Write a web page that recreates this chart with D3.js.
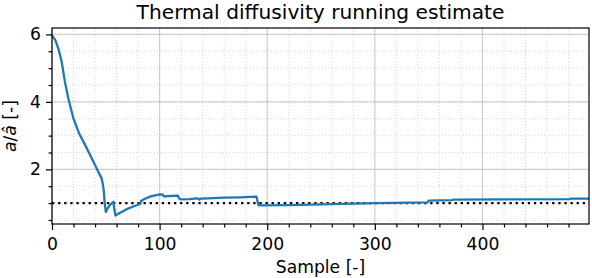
<!DOCTYPE html>
<meta charset="utf-8">
<title>Thermal diffusivity running estimate</title>
<style>

    body {
        margin: 0;
        background: #fff;
    }

    text {
        font-family: "DejaVu Sans", sans-serif;
        fill: #000;
    }

    .grid-major line {
        stroke: #b0b0b0;
        stroke-opacity: .55;
        stroke-width: 1.2px;
    }

    .grid-minor line {
        stroke: #b0b0b0;
        stroke-opacity: .6;
        stroke-width: .8px;
        stroke-dasharray: 1,2;
    }

</style>
<body>
<script src="https://d3js.org/d3.v7.min.js"></script>
<script>

    // running estimate a / a_hat
    var samples = [0, 3, 6, 9, 12, 15, 20, 25, 31, 37, 43, 46, 47, 48, 49, 50,
                   52, 54, 56, 57, 58, 59, 62, 66, 70, 75, 80, 82, 83, 86, 91, 96, 100,
                   103, 104, 110, 117, 118, 119, 128, 134, 136, 137, 138, 145, 160, 175,
                   190, 191, 192, 220, 260, 300, 349, 350, 372, 373, 420, 481, 482, 499];
    var ratio   = [5.97, 5.84, 5.57, 5.19, 4.6, 4.12, 3.5, 3.08, 2.71, 2.32, 1.93, 1.74, 1.6, 1.4, 1.0, 0.74,
                   0.86, 0.95, 1.01, 1.04, 0.8, 0.63, 0.69, 0.76, 0.83, 0.89, 0.95, 0.98, 1.07, 1.12, 1.19, 1.23, 1.26,
                   1.25, 1.2, 1.21, 1.22, 1.15, 1.11, 1.12, 1.14, 1.13, 1.1, 1.13, 1.14, 1.16, 1.17,
                   1.19, 1.05, 0.93, 0.94, 0.97, 1.0, 1.02, 1.07, 1.09, 1.1, 1.11, 1.12, 1.13, 1.13];

    var xTicks = [0, 100, 200, 300, 400],
        yTicks = [2, 4, 6];

    var w = 592,
        h = 278,
        m = {top: 28, right: 3, bottom: 54, left: 52};

    var svg = d3.select("body").append("svg")
        .attr("width", w)
        .attr("height", h);

    var x = d3.scaleLinear().domain([0, 499]).range([m.left, w - m.right]),
        y = d3.scaleLinear().domain([0.38, 6.19]).range([h - m.bottom, m.top]);

    var xMinor = d3.range(0, 500, 20),
        yMinor = d3.range(0.5, 6.01, 0.5);

    // grid
    svg.append("g").attr("class", "grid-minor")
        .selectAll("line.v").data(xMinor).enter().append("line")
        .attr("x1", x).attr("x2", x).attr("y1", m.top).attr("y2", h - m.bottom);
    svg.select(".grid-minor")
        .selectAll("line.h").data(yMinor).enter().append("line")
        .attr("y1", y).attr("y2", y).attr("x1", m.left).attr("x2", w - m.right);

    svg.append("g").attr("class", "grid-major")
        .selectAll("line.v").data(xTicks).enter().append("line")
        .attr("x1", x).attr("x2", x).attr("y1", m.top).attr("y2", h - m.bottom);
    svg.select(".grid-major")
        .selectAll("line.h").data(yTicks).enter().append("line")
        .attr("y1", y).attr("y2", y).attr("x1", m.left).attr("x2", w - m.right);

    // reference line at 1
    svg.append("line")
        .attr("x1", m.left).attr("x2", w - m.right)
        .attr("y1", y(1)).attr("y2", y(1))
        .style("stroke", "#000")
        .style("stroke-width", 2.3)
        .style("stroke-dasharray", "2.3,3.8");

    // data line
    var line = d3.line()
        .x(function(d, i) { return x(samples[i]); })
        .y(function(d) { return y(d); });

    svg.append("path")
        .datum(ratio)
        .attr("d", line)
        .style("fill", "none")
        .style("stroke", "#1f77b4")
        .style("stroke-width", 2.3)
        .style("stroke-linejoin", "round");

    // axes
    svg.append("g")
        .attr("transform", "translate(0," + (h - m.bottom) + ")")
        .call(d3.axisBottom(x).tickValues(xTicks).tickSize(6).tickPadding(8)
            .tickFormat(d3.format("d")));
    svg.append("g")
        .attr("transform", "translate(0," + (h - m.bottom) + ")")
        .call(d3.axisBottom(x).tickValues(xMinor.filter(function(d) { return d % 100; }))
            .tickSize(3.4).tickFormat(""));

    svg.append("g")
        .attr("transform", "translate(" + m.left + ",0)")
        .call(d3.axisLeft(y).tickValues(yTicks).tickSize(6).tickPadding(5)
            .tickFormat(d3.format("d")));
    svg.append("g")
        .attr("transform", "translate(" + m.left + ",0)")
        .call(d3.axisLeft(y).tickValues(yMinor.filter(function(d) { return d % 2; }))
            .tickSize(3.4).tickFormat(""));

    svg.selectAll(".domain").remove();
    svg.selectAll(".tick line").style("stroke", "#000").style("stroke-width", 1.2);
    svg.selectAll(".tick text")
        .style("font-family", "DejaVu Sans")
        .style("font-size", "17.2px")
        .style("fill", "#000");

    // frame
    svg.append("rect")
        .attr("x", m.left).attr("y", m.top)
        .attr("width", w - m.left - m.right)
        .attr("height", h - m.top - m.bottom)
        .style("fill", "none")
        .style("stroke", "#000")
        .style("stroke-width", 1.2);

    // labels
    svg.append("text")
        .attr("x", (m.left + w - m.right) / 2)
        .attr("y", 18.5)
        .attr("text-anchor", "middle")
        .style("font-size", "20.2px")
        .text("Thermal diffusivity running estimate");

    svg.append("text")
        .attr("x", (m.left + w - m.right) / 2)
        .attr("y", 273)
        .attr("text-anchor", "middle")
        .style("font-size", "17.2px")
        .text("Sample [-]");

    var yl = svg.append("text")
        .attr("transform", "translate(16," + ((m.top + h - m.bottom) / 2) + ")rotate(-90)")
        .attr("text-anchor", "middle")
        .style("font-size", "17.2px");
    yl.append("tspan").style("font-style", "italic").text("a");
    yl.append("tspan").text("/");
    yl.append("tspan").style("font-style", "italic").text("â");
    yl.append("tspan").text(" [-]");

</script>
